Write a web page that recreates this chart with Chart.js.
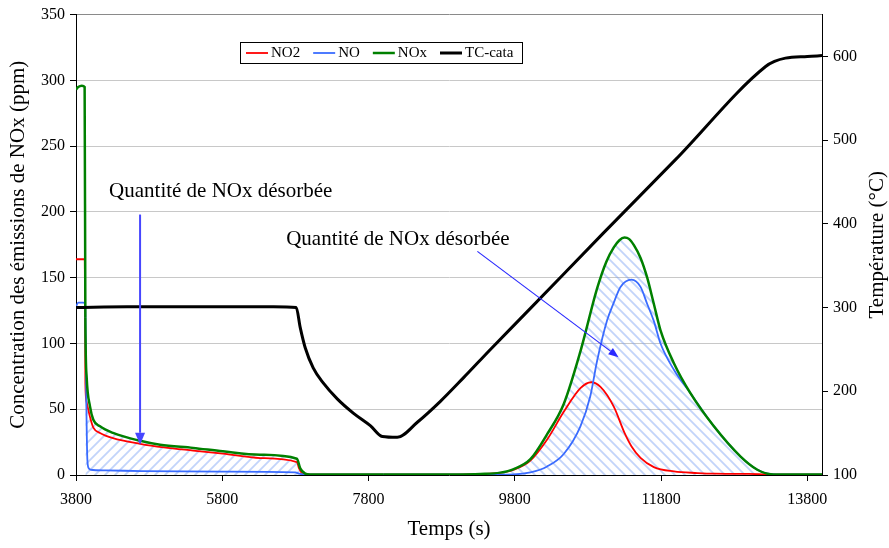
<!DOCTYPE html>
<html><head><meta charset="utf-8">
<script src="https://cdn.jsdelivr.net/npm/chart.js@4.4.0/dist/chart.umd.min.js"></script>
<style>html,body{margin:0;padding:0;background:#fff}canvas{display:block}</style>
</head><body>
<canvas id="c" width="889" height="548"></canvas>
<script>
// ---------- data ----------
const xTicks = [3800, 5800, 7800, 9800, 11800, 13800];
const yLeftTicks = [0, 50, 100, 150, 200, 250, 300, 350];
const yRightTicks = [100, 200, 300, 400, 500, 600];
const seriesNames = ['NO2', 'NO', 'NOx', 'TC-cata'];
const annotationText = 'Quantité de NOx désorbée';

const no2Time = [3800, 3920, 3928, 3946, 3992, 4037, 4128, 4306, 4676, 5000, 5401, 5808, 6318, 6820, 6850, 6900, 7000, 8000, 9000, 9329, 9600, 9785, 10013, 10242, 10469, 10697, 10844, 10971, 11153, 11300, 11396, 11519, 11701, 11975, 12300, 12522, 13000, 13300, 14000];
const no2Vals = [164, 164, 70, 55, 44, 36, 32, 28, 23.7, 21, 18.6, 16.3, 12.9, 9.8, 5, 1, 0.3, 0.2, 0.3, 0.8, 1.6, 4, 11, 27, 48, 66, 70.5, 67, 52, 32, 21.7, 13, 6, 2.7, 1.5, 1, 0.8, 0.3, 0.2];

const noTime = [3800, 3830, 3900, 3925, 3940, 3955, 3975, 4000, 4200, 4700, 5800, 6800, 6850, 6950, 8000, 9329, 9785, 10013, 10242, 10469, 10697, 10830, 10926, 11062, 11153, 11245, 11396, 11519, 11610, 11701, 11792, 11975, 12203, 12522, 12887, 13116, 13298, 13500, 14000];
const noVals = [128, 131, 131, 130, 60, 12, 5, 4, 3.5, 3, 2.5, 2, 1, 0.2, 0.2, 0.2, 0.5, 2, 6.5, 16, 37, 59.5, 87, 117.6, 131, 143, 148.5, 143, 130, 117, 100, 80, 62, 37, 14, 4, 0.6, 0.2, 0.2];

const noxTime = [3800, 3830, 3880, 3918, 3928, 3946, 3992, 4037, 4128, 4306, 4676, 4950, 5401, 5808, 6318, 6820, 6866, 6934, 7000, 8000, 9000, 9329, 9600, 9785, 10013, 10242, 10469, 10697, 10926, 11050, 11153, 11230, 11300, 11360, 11430, 11519, 11610, 11701, 11792, 11975, 12203, 12522, 12887, 13116, 13298, 13500, 14000];
const noxVals = [293, 295, 296, 295, 120, 74, 52, 42, 37, 32, 26, 23, 20.6, 18, 15.4, 12.4, 5, 1, 0.3, 0.3, 0.4, 0.8, 1.8, 4.5, 12, 31, 54, 94, 142, 162, 173, 178.5, 180.5, 179.5, 174.5, 165, 150, 130, 110, 85, 62, 37, 14, 4, 0.6, 0.3, 0.3];

const tcTime = [3800, 4500, 5500, 6500, 6811, 6866, 6934, 7043, 7180, 7372, 7591, 7824, 7988, 8193, 8467, 8782, 9096, 9466, 10013, 11000, 12000, 13229, 13350, 13500, 13800, 14000];
const tcVals = [300, 301, 301, 301, 300, 276, 252, 228, 210, 191, 174, 159, 146, 145, 163, 188, 216, 250, 299, 388, 477, 588, 594, 598, 600, 601];

// ---------- helpers ----------
const SERIF = '"Liberation Serif", "Times New Roman", serif';
const pts = (ts, vs) => ts.map((t, i) => ({x: t, y: vs[i]}));

function makeHatch(forward) {
  const c = document.createElement('canvas');
  c.width = 10; c.height = 10;
  const g = c.getContext('2d');
  g.strokeStyle = 'rgba(120,160,245,0.45)';
  g.lineWidth = 1.8;
  g.beginPath();
  if (forward) { // "/"
    g.moveTo(-1, 11); g.lineTo(11, -1);
    g.moveTo(-1, 1); g.lineTo(1, -1);
    g.moveTo(9, 11); g.lineTo(11, 9);
  } else { // "\"
    g.moveTo(-1, -1); g.lineTo(11, 11);
    g.moveTo(-1, 9); g.lineTo(1, 11);
    g.moveTo(9, -1); g.lineTo(11, 1);
  }
  g.stroke();
  return g.createPattern(c, 'repeat');
}
const hatchLeft = makeHatch(true);
const hatchRight = makeHatch(false);

function arrow(ctx, x1, y1, x2, y2, color, lw, headLen, headW) {
  const a = Math.atan2(y2 - y1, x2 - x1);
  const bx = x2 - Math.cos(a) * headLen, by = y2 - Math.sin(a) * headLen;
  ctx.save();
  ctx.strokeStyle = color; ctx.fillStyle = color; ctx.lineWidth = lw;
  ctx.beginPath(); ctx.moveTo(x1, y1); ctx.lineTo(bx, by); ctx.stroke();
  ctx.beginPath();
  ctx.moveTo(x2, y2);
  ctx.lineTo(bx + Math.sin(a) * headW / 2, by - Math.cos(a) * headW / 2);
  ctx.lineTo(bx - Math.sin(a) * headW / 2, by + Math.cos(a) * headW / 2);
  ctx.closePath(); ctx.fill();
  ctx.restore();
}

const extras = {
  id: 'extras',
  afterDatasetsDraw(chart) {
    const {ctx} = chart;
    const x = chart.scales.x, y = chart.scales.y;
    ctx.save();
    ctx.font = '21px ' + SERIF;
    ctx.fillStyle = '#000';
    ctx.textBaseline = 'alphabetic';
    ctx.textAlign = 'left';
    ctx.fillText(annotationText, x.getPixelForValue(4252), y.getPixelForValue(211));
    ctx.fillText(annotationText, x.getPixelForValue(6674), y.getPixelForValue(175));
    ctx.restore();
    arrow(ctx, x.getPixelForValue(4676), y.getPixelForValue(198), x.getPixelForValue(4676), y.getPixelForValue(23), '#4646ff', 2, 12, 10);
    arrow(ctx, x.getPixelForValue(9288), y.getPixelForValue(170), x.getPixelForValue(11218), y.getPixelForValue(89.6), '#2a2aff', 1.2, 10, 8);
  },
  afterDraw(chart) {
    const {ctx, chartArea} = chart;
    // right axis title (reads bottom to top)
    ctx.save();
    ctx.font = '21px ' + SERIF;
    ctx.fillStyle = '#000';
    ctx.textAlign = 'center';
    ctx.textBaseline = 'middle';
    ctx.translate(877, (chartArea.top + chartArea.bottom) / 2);
    ctx.rotate(-Math.PI / 2);
    ctx.fillText('Température (°C)', 0, 0);
    ctx.restore();
    // legend
    ctx.save();
    ctx.fillStyle = '#fff';
    ctx.fillRect(240.5, 42.5, 282, 21);
    ctx.strokeStyle = '#000'; ctx.lineWidth = 1;
    ctx.strokeRect(240.5, 42.5, 282, 21);
    ctx.font = '15px ' + SERIF;
    ctx.textBaseline = 'middle';
    ctx.textAlign = 'left';
    let lx = 246;
    const ly = 53;
    chart.data.datasets.forEach(ds => {
      ctx.strokeStyle = ds.borderColor; ctx.lineWidth = ds.borderWidth;
      ctx.beginPath(); ctx.moveTo(lx, ly); ctx.lineTo(lx + 22, ly); ctx.stroke();
      ctx.fillStyle = '#000';
      ctx.fillText(ds.label, lx + 25, ly + 0.5);
      lx += 25 + ctx.measureText(ds.label).width + 13;
    });
    ctx.restore();
  }
};

const tickFont = {family: SERIF, size: 16};
const titleFont = {family: SERIF, size: 21};

new Chart(document.getElementById('c'), {
  type: 'line',
  data: {
    datasets: [
      {label: seriesNames[0], data: pts(no2Time, no2Vals), borderColor: '#ff0000', borderWidth: 1.8, yAxisID: 'y', fill: false, order: 3},
      {label: seriesNames[1], data: pts(noTime, noVals), borderColor: '#3a6cff', borderWidth: 1.8, yAxisID: 'y', fill: false, order: 2},
      {label: seriesNames[2], data: pts(noxTime, noxVals), borderColor: '#008000', borderWidth: 2.5, yAxisID: 'y', order: 1,
       fill: 'origin', backgroundColor: hatchRight,
       segment: {backgroundColor: c => c.p0.parsed.x < 3925 ? 'rgba(0,0,0,0)' : (c.p0.parsed.x < 8000 ? hatchLeft : hatchRight)}},
      {label: seriesNames[3], data: pts(tcTime, tcVals), borderColor: '#000000', borderWidth: 3, yAxisID: 'y1', fill: false, order: 0}
    ]
  },
  options: {
    responsive: false,
    animation: false,
    layout: {padding: {top: 13, left: 0, right: 0, bottom: 0}},
    elements: {point: {radius: 0}, line: {cubicInterpolationMode: 'monotone'}},
    plugins: {
      legend: {display: false},
      tooltip: {enabled: false},
      filler: {drawTime: 'beforeDatasetsDraw'}
    },
    scales: {
      x: {
        type: 'linear', min: 3800, max: 14000,
        afterBuildTicks: s => { s.ticks = xTicks.map(v => ({value: v})); },
        afterFit: s => { s.height = 73; },
        grid: {drawOnChartArea: false, tickLength: 6, tickColor: '#000'},
        border: {color: '#000', width: 1},
        ticks: {font: tickFont, color: '#000', padding: 9, maxRotation: 0, autoSkip: false, callback: v => String(v)},
        title: {display: true, text: 'Temps (s)', font: titleFont, color: '#000', padding: {top: 0, bottom: 6}}
      },
      y: {
        type: 'linear', position: 'left', min: 0, max: 350,
        afterBuildTicks: s => { s.ticks = yLeftTicks.map(v => ({value: v})); },
        afterFit: s => { s.width = 76; },
        grid: {
          color: c => c.tick && c.tick.value === 0 ? 'rgba(0,0,0,0)' : (c.tick && c.tick.value === 350 ? '#8a8a8a' : '#c8c8c8'),
          tickLength: 6, tickColor: '#000'
        },
        border: {color: '#000', width: 1},
        ticks: {font: tickFont, color: '#000', padding: 5, callback: v => String(v)},
        title: {display: true, text: 'Concentration des émissions de NOx (ppm)', font: titleFont, color: '#000', padding: {top: 6, bottom: 0}}
      },
      y1: {
        type: 'linear', position: 'right', min: 100, max: 650,
        afterBuildTicks: s => { s.ticks = yRightTicks.map(v => ({value: v})); },
        afterFit: s => { s.width = 67; },
        grid: {drawOnChartArea: false, tickLength: 6, tickColor: '#000'},
        border: {color: '#000', width: 1},
        ticks: {font: tickFont, color: '#000', padding: 5, callback: v => String(v)}
      }
    }
  },
  plugins: [extras]
});
</script>
</body></html>
